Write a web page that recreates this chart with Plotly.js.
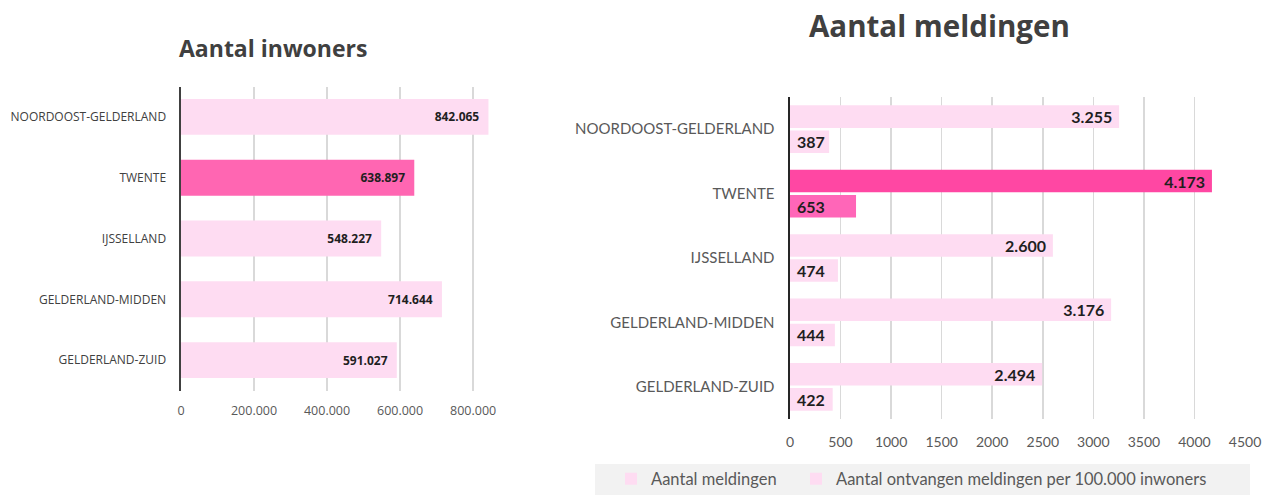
<!DOCTYPE html>
<html>
<head>
<meta charset="utf-8">
<script src="https://cdn.plot.ly/plotly-3.0.1.min.js"></script>
<style>html,body{margin:0;padding:0;background:#fff;}#chart{width:1267px;height:497px;}</style>
</head>
<body>
<div id="chart"></div>
<script>
const regions = ["NOORDOOST-GELDERLAND", "TWENTE", "IJSSELLAND", "GELDERLAND-MIDDEN", "GELDERLAND-ZUID"];
const inwoners = [842065, 638897, 548227, 714644, 591027];
const meldingen = [3255, 4173, 2600, 3176, 2494];
const meldingenPer100k = [387, 653, 474, 444, 422];
const leftTicks = [0, 200000, 400000, 600000, 800000];
const rightTicks = [0, 500, 1000, 1500, 2000, 2500, 3000, 3500, 4000, 4500];
const seriesNames = ["Aantal meldingen", "Aantal ontvangen meldingen per 100.000 inwoners"];

const W = 1267, H = 497;
const px = x => x / W;
const py = y => 1 - y / H;

const light = "#FEDCF2";
const hl = i => regions[i] === "TWENTE";
const colLeft = regions.map((r, i) => hl(i) ? "#FF66B2" : light);
const colR1 = regions.map((r, i) => hl(i) ? "#FF47A3" : light);
const colR2 = regions.map((r, i) => hl(i) ? "#FF66B8" : light);

const NB = "\u00a0";
const lblFont = {family: "Lato, 'Open Sans', sans-serif", size: 16, color: "#1f1f1f", weight: 700};

const traces = [
  {
    type: "bar", orientation: "h", x: inwoners, y: regions, xaxis: "x", yaxis: "y",
    marker: {color: colLeft}, width: 0.59, showlegend: false,
    texttemplate: "%{x:,d}" + NB + NB, textposition: "inside", insidetextanchor: "end", constraintext: "none",
    textfont: {family: "'Open Sans', sans-serif", size: 12, color: "#1f1f1f", weight: 700},
    hoverinfo: "skip"
  },
  {
    type: "bar", orientation: "h", x: meldingen, y: regions, xaxis: "x2", yaxis: "y2",
    name: seriesNames[0], legend: "legend", marker: {color: colR1}, width: 0.35, offset: -0.37,
    texttemplate: "%{x:,d}" + NB, textposition: "inside", insidetextanchor: "end", constraintext: "none",
    textfont: lblFont, hoverinfo: "skip"
  },
  {
    type: "bar", orientation: "h", x: meldingenPer100k, y: regions, xaxis: "x2", yaxis: "y2",
    name: seriesNames[1], legend: "legend2", marker: {color: colR2}, width: 0.35, offset: 0.02,
    texttemplate: NB + "%{x:,d}", textposition: "inside", insidetextanchor: "start", constraintext: "none",
    textfont: lblFont, hoverinfo: "skip"
  }
];

const legFont = {family: "Lato, sans-serif", size: 16.5, color: "#595959"};

const layout = {
  width: W, height: H,
  margin: {l: 0, r: 0, t: 0, b: 0},
  paper_bgcolor: "#fff", plot_bgcolor: "rgba(0,0,0,0)",
  separators: ",.",
  barmode: "overlay",
  showlegend: true,
  xaxis: {
    domain: [px(181), px(495)], range: [0, 860000],
    tickvals: leftTicks, tickformat: ",d",
    showgrid: true, gridcolor: "#D9D9D9", gridwidth: 1.5, zeroline: false,
    ticks: "outside", ticklen: 8, tickcolor: "rgba(0,0,0,0)",
    tickfont: {family: "'Open Sans', sans-serif", size: 12.5, color: "#595959"},
    fixedrange: true
  },
  yaxis: {
    domain: [py(390.5), py(86.5)], autorange: "reversed", type: "category",
    showline: true, linecolor: "#404040", linewidth: 2.5, showgrid: false,
    ticks: "outside", ticklen: 10, tickcolor: "rgba(0,0,0,0)",
    tickfont: {family: "'Open Sans', sans-serif", size: 12, color: "#404040"},
    fixedrange: true
  },
  xaxis2: {
    domain: [px(790), px(1245)], range: [0, 4500],
    tickvals: rightTicks, tickformat: "d", anchor: "y2",
    showgrid: true, gridcolor: "#D9D9D9", gridwidth: 1.5, zeroline: false,
    ticks: "outside", ticklen: 10, tickcolor: "rgba(0,0,0,0)",
    tickfont: {family: "Lato, sans-serif", size: 14, color: "#595959"},
    fixedrange: true
  },
  yaxis2: {
    domain: [py(419), py(97)], autorange: "reversed", type: "category", anchor: "x2",
    showline: true, linecolor: "#262626", linewidth: 2.5, showgrid: false,
    ticks: "outside", ticklen: 10, tickcolor: "rgba(0,0,0,0)",
    tickfont: {family: "Lato, sans-serif", size: 15, color: "#595959"},
    fixedrange: true
  },
  legend: {
    orientation: "h", x: px(611), xanchor: "left", y: py(479), yanchor: "middle",
    bgcolor: "rgba(0,0,0,0)", font: legFont
  },
  legend2: {
    orientation: "h", x: px(796), xanchor: "left", y: py(479), yanchor: "middle",
    bgcolor: "rgba(0,0,0,0)", font: legFont
  },
  shapes: [
    {type: "rect", xref: "paper", yref: "paper", x0: px(595), x1: px(1250), y0: py(495), y1: py(464),
     fillcolor: "#F2F2F2", line: {width: 0}, layer: "below"}
  ],
  annotations: [
    {text: "Aantal inwoners", xref: "paper", yref: "paper", x: px(273), y: py(48), xanchor: "center", yanchor: "middle",
     showarrow: false, font: {family: "'Open Sans', sans-serif", size: 23, color: "#404040", weight: 700}},
    {text: "Aantal meldingen", xref: "paper", yref: "paper", x: px(939), y: py(25), xanchor: "center", yanchor: "middle",
     showarrow: false, font: {family: "'Open Sans', sans-serif", size: 29.5, color: "#404040", weight: 700}}
  ]
};

Plotly.newPlot("chart", traces, layout, {displayModeBar: false, staticPlot: true});
</script>
</body>
</html>
